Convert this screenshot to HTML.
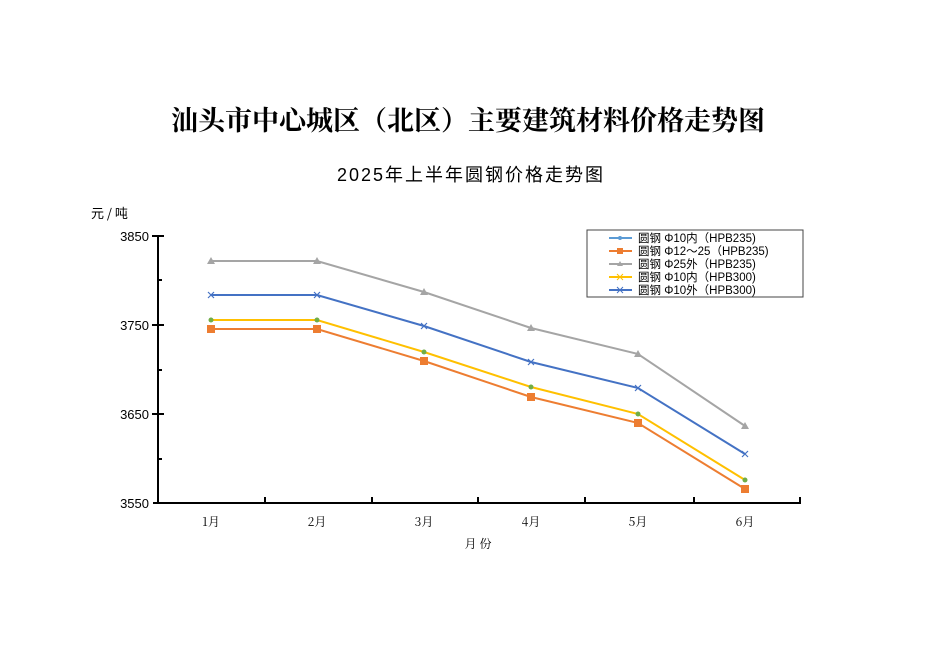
<!DOCTYPE html>
<html><head><meta charset="utf-8"><style>
body{margin:0;background:#fff;}
</style></head><body>
<svg width="950" height="672" xmlns="http://www.w3.org/2000/svg" style="display:block;font-family:'Liberation Serif','Noto Serif CJK SC',serif">
<rect width="950" height="672" fill="#fff"/>
<text x="468" y="130" font-size="27" font-weight="bold" text-anchor="middle" font-family="'Noto Serif CJK SC',serif">汕头市中心城区（北区）主要建筑材料价格走势图</text>
<text x="471" y="181" font-size="18" text-anchor="middle" font-family="'Liberation Sans','Noto Sans CJK SC',sans-serif" letter-spacing="2">2025年上半年圆钢价格走势图</text>
<text x="91" y="218" font-size="13" font-family="'Noto Sans CJK SC',sans-serif">元 / 吨</text>
<g font-family="'Liberation Sans',sans-serif" font-size="13" text-anchor="end">
<text x="149" y="241">3850</text><text x="149" y="330">3750</text><text x="149" y="419">3650</text><text x="149" y="508">3550</text>
</g>
<g stroke="#000" stroke-width="2" fill="none">
<line x1="158" y1="235" x2="158" y2="504"/>
<line x1="153" y1="503" x2="801" y2="503"/>
<line x1="152" y1="236" x2="164" y2="236"/><line x1="152" y1="325" x2="164" y2="325"/><line x1="152" y1="414" x2="164" y2="414"/>
<line x1="158" y1="280" x2="162" y2="280"/><line x1="158" y1="370" x2="162" y2="370"/><line x1="158" y1="459" x2="162" y2="459"/>
<line x1="265" y1="497" x2="265" y2="503"/><line x1="372" y1="497" x2="372" y2="503"/><line x1="478" y1="497" x2="478" y2="503"/><line x1="585" y1="497" x2="585" y2="503"/><line x1="694" y1="497" x2="694" y2="503"/><line x1="800" y1="497" x2="800" y2="503"/>
</g>
<g font-size="12" text-anchor="middle" font-family="'Noto Serif CJK SC',serif">
<text x="211" y="526">1月</text><text x="317" y="526">2月</text><text x="424" y="526">3月</text><text x="531" y="526">4月</text><text x="638" y="526">5月</text><text x="745" y="526">6月</text>
<text x="478" y="548">月 份</text>
</g>
<g fill="none" stroke-width="2">
<polyline stroke="#a5a5a5" points="211,261 317,261 424,292 531,328 638,354 745,426"/>
<polyline stroke="#4472c4" points="211,295 317,295 424,326 531,362 638,388 745,454"/>
<polyline stroke="#ed7d31" points="211,329 317,329 424,361 531,397 638,423 745,489"/>
<polyline stroke="#ffc000" points="211,320 317,320 424,352 531,387 638,414 745,480"/>
</g>
<g fill="#a5a5a5">
<path d="M211,257l4,7h-8z M317,257l4,7h-8z M424,288l4,7h-8z M531,324l4,7h-8z M638,350l4,7h-8z M745,422l4,7h-8z"/>
</g>
<g fill="#ed7d31">
<rect x="207" y="325" width="8" height="8"/><rect x="313" y="325" width="8" height="8"/><rect x="420" y="357" width="8" height="8"/><rect x="527" y="393" width="8" height="8"/><rect x="634" y="419" width="8" height="8"/><rect x="741" y="485" width="8" height="8"/>
</g>
<g stroke="#4472c4" stroke-width="1.2">
<path d="M208,292l6,6M214,292l-6,6 M314,292l6,6M320,292l-6,6 M421,323l6,6M427,323l-6,6 M528,359l6,6M534,359l-6,6 M635,385l6,6M641,385l-6,6 M742,451l6,6M748,451l-6,6"/>
</g>
<g fill="#70ad47">
<circle cx="211" cy="320" r="2.5"/><circle cx="317" cy="320" r="2.5"/><circle cx="424" cy="352" r="2.5"/><circle cx="531" cy="387" r="2.5"/><circle cx="638" cy="414" r="2.5"/><circle cx="745" cy="480" r="2.5"/>
</g>
<rect x="587" y="230" width="216" height="67" fill="#fff" stroke="#444" stroke-width="1"/>
<g stroke-width="2">
<line x1="609" y1="238" x2="632" y2="238" stroke="#5b9bd5"/>
<line x1="609" y1="251" x2="632" y2="251" stroke="#ed7d31"/>
<line x1="609" y1="264" x2="632" y2="264" stroke="#a5a5a5"/>
<line x1="609" y1="277" x2="632" y2="277" stroke="#ffc000"/>
<line x1="609" y1="290" x2="632" y2="290" stroke="#4472c4"/>
</g>
<circle cx="620" cy="238" r="2" fill="#5b9bd5"/>
<rect x="617" y="248" width="6" height="6" fill="#ed7d31"/>
<path d="M620,261l3,5h-6z" fill="#a5a5a5"/>
<path d="M617,274l6,6M623,274l-6,6" stroke="#ffc000"/>
<path d="M617,287l6,6M623,287l-6,6" stroke="#4472c4"/>
<g font-size="11.5" font-family="'Liberation Sans','Noto Sans CJK SC',sans-serif">
<text x="638" y="242">圆钢 Φ10内（HPB235)</text>
<text x="638" y="255">圆钢 Φ12～25（HPB235)</text>
<text x="638" y="268">圆钢 Φ25外（HPB235)</text>
<text x="638" y="281">圆钢 Φ10内（HPB300)</text>
<text x="638" y="294">圆钢 Φ10外（HPB300)</text>
</g>
</svg>
</body></html>
